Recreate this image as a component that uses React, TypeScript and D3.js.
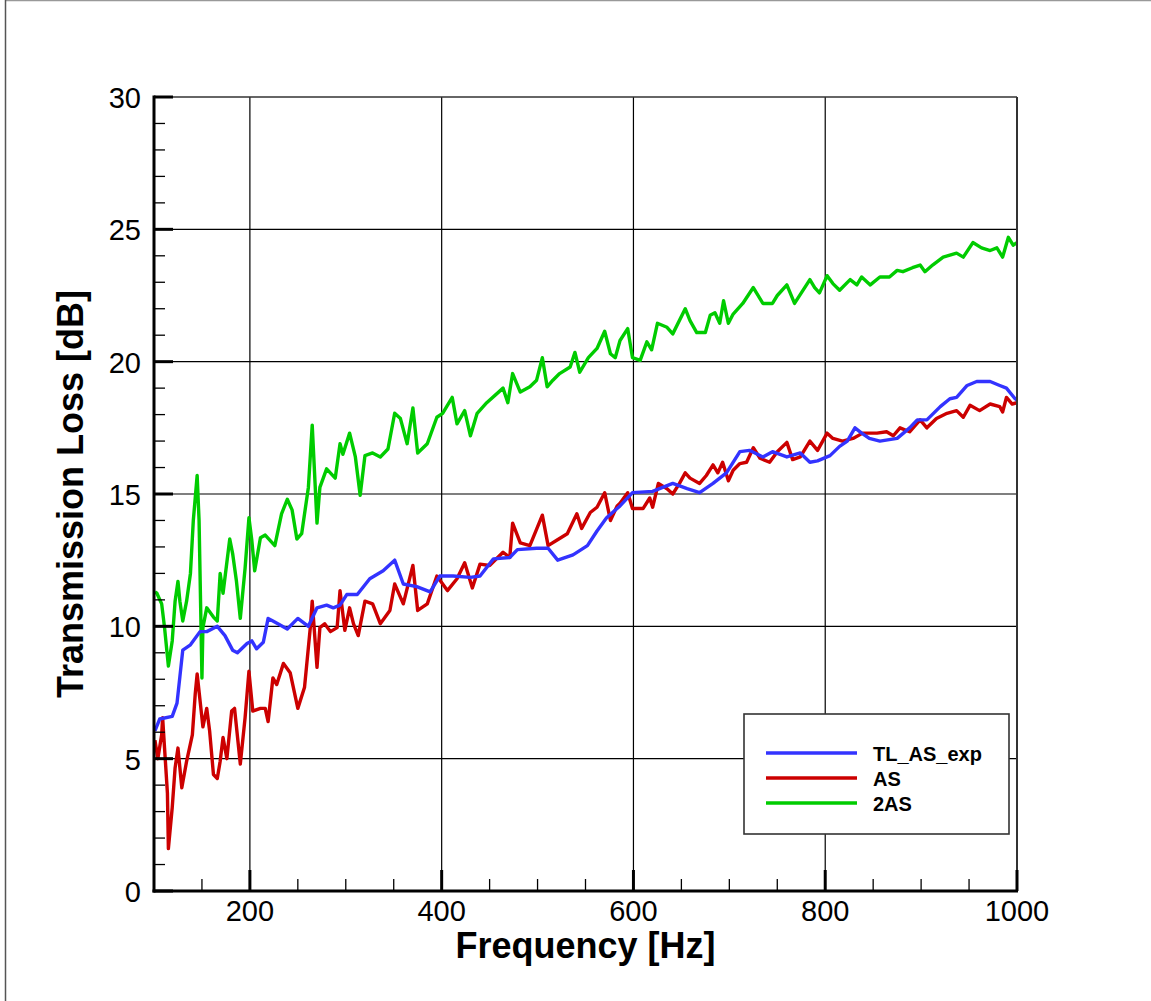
import React from "react";
import * as d3 from "d3";

const blueTL: [number, number][] = [[101,6.05],[106,6.5],[119,6.6],[124,7.1],[127,8.1],[130,9.1],[138,9.3],[148,9.8],[155,9.8],[166,10.0],[174,9.65],[182,9.1],[187,9.0],[197,9.35],[202,9.45],[207,9.15],[214,9.4],[219,10.3],[224,10.2],[239,9.9],[250,10.3],[261,10.0],[270,10.7],[280,10.8],[287,10.7],[294,10.8],[301,11.2],[312,11.2],[325,11.8],[339,12.1],[351,12.5],[360,11.6],[374,11.5],[388,11.3],[398,11.9],[412,11.9],[430,11.85],[440,11.9],[454,12.55],[471,12.6],[479,12.9],[499,12.95],[511,12.95],[521,12.5],[537,12.7],[552,13.05],[562,13.6],[572,14.1],[586,14.55],[599,15.05],[620,15.1],[641,15.4],[656,15.2],[669,15.05],[683,15.4],[697,15.8],[711,16.6],[721,16.65],[735,16.4],[745,16.6],[760,16.4],[774,16.55],[784,16.2],[792,16.25],[805,16.45],[815,16.8],[823,17.0],[831,17.5],[838,17.3],[846,17.1],[857,17.0],[875,17.1],[888,17.5],[896,17.8],[906,17.8],[920,18.3],[930,18.6],[937,18.65],[948,19.1],[958,19.25],[972,19.25],[982,19.1],[989,19.0],[998,18.6],[1000,18.55]];

const redAS: [number, number][] = [[101,5.7],[104,5.0],[108,5.9],[109,6.55],[111,5.4],[114,3.7],[115,1.6],[119,3.15],[122,4.65],[125,5.4],[129,3.9],[134,4.9],[140,5.9],[143,7.45],[145,8.2],[148,7.2],[151,6.2],[155,6.9],[158,6.05],[162,4.4],[166,4.25],[169,4.9],[172,5.8],[176,5.0],[181,6.8],[184,6.9],[190,4.8],[195,6.55],[199,8.3],[203,6.8],[211,6.9],[216,6.9],[219,6.4],[224,8.05],[228,7.8],[235,8.6],[242,8.25],[250,6.9],[257,7.7],[263,9.95],[265,10.95],[270,8.45],[273,9.95],[278,10.1],[284,9.8],[291,9.95],[294,11.35],[299,9.85],[304,10.7],[308,10.1],[313,9.65],[320,10.95],[328,10.85],[336,10.1],[346,10.6],[351,11.6],[360,10.85],[370,12.3],[375,10.6],[385,10.85],[395,11.9],[406,11.35],[416,11.8],[424,12.4],[432,11.45],[440,12.35],[450,12.3],[464,12.8],[471,12.6],[474,13.9],[482,13.15],[492,13.05],[505,14.2],[511,13.05],[520,13.25],[531,13.5],[541,14.25],[546,13.7],[555,14.3],[562,14.5],[570,15.05],[576,14.0],[583,14.55],[586,14.65],[594,15.05],[599,14.45],[610,14.45],[617,14.85],[620,14.5],[626,15.4],[635,15.2],[641,15.0],[648,15.4],[654,15.8],[659,15.6],[669,15.4],[676,15.7],[683,16.1],[688,15.8],[693,16.2],[699,15.5],[704,15.9],[711,16.15],[718,16.2],[725,16.75],[732,16.35],[742,16.2],[750,16.6],[760,16.95],[766,16.3],[774,16.4],[784,17.0],[792,16.65],[802,17.3],[808,17.1],[818,17.0],[829,17.1],[839,17.3],[854,17.3],[864,17.35],[871,17.2],[878,17.5],[888,17.35],[899,17.8],[906,17.5],[916,17.85],[927,18.05],[937,18.15],[944,17.9],[951,18.35],[961,18.15],[972,18.4],[982,18.3],[985,18.1],[989,18.65],[995,18.4],[1000,18.45]];

const green2AS: [number, number][] = [[101,11.3],[103,11.25],[108,10.85],[111,9.95],[115,8.5],[119,9.45],[122,10.95],[125,11.7],[127,10.95],[130,10.2],[134,10.95],[138,12.0],[141,14.0],[145,15.7],[147,14.0],[150,8.05],[151,9.95],[155,10.7],[162,10.35],[166,10.2],[169,12.0],[172,11.25],[179,13.3],[182,12.75],[186,11.7],[190,10.3],[195,12.2],[199,14.1],[202,13.25],[205,12.1],[211,13.35],[216,13.45],[226,13.05],[233,14.25],[239,14.8],[244,14.4],[249,13.3],[254,13.5],[261,15.25],[265,17.6],[270,13.9],[273,15.25],[280,15.95],[289,15.6],[294,16.9],[297,16.5],[304,17.3],[310,16.4],[315,14.95],[320,16.45],[328,16.55],[336,16.4],[344,16.7],[351,18.05],[357,17.85],[364,16.9],[370,18.25],[375,16.55],[385,16.9],[395,17.9],[401,18.05],[411,18.65],[416,17.65],[424,18.15],[430,17.2],[437,18.05],[447,18.45],[464,19.0],[469,18.45],[474,19.55],[482,18.85],[492,19.05],[499,19.3],[505,20.15],[510,19.05],[516,19.3],[523,19.55],[534,19.8],[539,20.35],[544,19.6],[553,20.15],[562,20.5],[570,21.15],[576,20.3],[581,20.15],[586,20.8],[594,21.25],[599,20.15],[607,20.05],[614,20.75],[619,20.45],[625,21.45],[635,21.3],[641,21.05],[654,22.0],[659,21.55],[666,21.1],[675,21.1],[680,21.75],[685,21.85],[690,21.45],[694,22.3],[699,21.45],[704,21.8],[714,22.2],[725,22.8],[735,22.2],[745,22.2],[750,22.5],[760,22.9],[768,22.2],[784,23.1],[789,22.8],[794,22.6],[802,23.25],[808,22.95],[815,22.7],[826,23.1],[833,22.9],[838,23.2],[847,22.9],[857,23.2],[867,23.2],[875,23.45],[881,23.4],[891,23.55],[899,23.65],[904,23.4],[912,23.65],[923,23.95],[937,24.1],[944,23.95],[954,24.5],[963,24.3],[972,24.2],[979,24.3],[985,23.95],[991,24.7],[996,24.4],[1000,24.5]];

const xMajorTicks = [200, 400, 600, 800, 1000];
const xMinorTicks = [150, 250, 300, 350, 450, 500, 550, 650, 700, 750, 850, 900, 950];
const yMajorTicks = [0, 5, 10, 15, 20, 25, 30];
const yMinorTicks = [1,2,3,4,6,7,8,9,11,12,13,14,16,17,18,19,21,22,23,24,26,27,28,29];

const seriesNames = ["TL_AS_exp", "AS", "2AS"];
const seriesColors = ["#3333ff", "#cc0000", "#00cc00"];
const seriesData = [blueTL, redAS, green2AS];

const xTitle = "Frequency [Hz]";
const yTitle = "Transmission Loss [dB]";

export default function App() {
  const W = 1151, H = 1001;
  const x = d3.scaleLinear().domain([100, 1000]).range([154, 1017]);
  const y = d3.scaleLinear().domain([0, 30]).range([891, 97]);
  const line = d3.line<[number, number]>().x(d => x(d[0])).y(d => y(d[1]));
  const font = "Arial, 'Liberation Sans', sans-serif";
  const [x0, x1] = x.range();
  const [y0, y1] = y.range();
  const drawOrder = [2, 1, 0];

  return (
    <svg width={W} height={H} style={{ position: "absolute", left: 0, top: 0, background: "#fff" }}>
      <rect x={0} y={0} width={W} height={H} fill="#fff" />
      <line x1={5} y1={0.5} x2={W} y2={0.5} stroke="#999" strokeWidth={1.5} />
      <line x1={5.5} y1={0} x2={5.5} y2={H} stroke="#555" strokeWidth={1.5} />
      <defs>
        <clipPath id="plotClip">
          <rect x={x0} y={y1} width={x1 - x0} height={y0 - y1} />
        </clipPath>
      </defs>
      {xMajorTicks.filter(t => t < 1000).map(t => (
        <line key={"gx" + t} x1={x(t)} x2={x(t)} y1={y1} y2={y0} stroke="#000" strokeWidth={1.2} />
      ))}
      {yMajorTicks.filter(t => t > 0 && t < 30).map(t => (
        <line key={"gy" + t} x1={x0} x2={x1} y1={y(t)} y2={y(t)} stroke="#000" strokeWidth={1.2} />
      ))}
      <g clipPath="url(#plotClip)">
        {drawOrder.map(i => (
          <path key={i} d={line(seriesData[i]) || ""} fill="none" stroke={seriesColors[i]} strokeWidth={3.4} strokeLinejoin="round" />
        ))}
      </g>
      <line x1={x0} x2={x1} y1={y1} y2={y1} stroke="#333" strokeWidth={1.6} />
      <line x1={x1} x2={x1} y1={y1} y2={y0} stroke="#333" strokeWidth={2} />
      {xMinorTicks.map(t => (
        <line key={"mx" + t} x1={x(t)} x2={x(t)} y1={y0} y2={y0 - 12} stroke="#000" strokeWidth={1.3} />
      ))}
      {yMinorTicks.map(t => (
        <line key={"my" + t} x1={x0} x2={x0 + 11} y1={y(t)} y2={y(t)} stroke="#000" strokeWidth={1.3} />
      ))}
      {xMajorTicks.map(t => (
        <line key={"Mx" + t} x1={x(t)} x2={x(t)} y1={y0} y2={y0 - 21} stroke="#000" strokeWidth={3} />
      ))}
      {yMajorTicks.map(t => (
        <line key={"My" + t} x1={x0} x2={x0 + 19} y1={y(t)} y2={y(t)} stroke="#000" strokeWidth={3} />
      ))}
      <line x1={x0} x2={x0} y1={y1 - 1.5} y2={y0 + 1.5} stroke="#000" strokeWidth={3} />
      <line x1={x0 - 1.5} x2={x1 + 1} y1={y0} y2={y0} stroke="#000" strokeWidth={3} />
      {yMajorTicks.map(t => (
        <text key={"ly" + t} x={141} y={y(t) + 11} textAnchor="end" fontFamily={font} fontSize={29} fill="#000">{t}</text>
      ))}
      {xMajorTicks.map(t => (
        <text key={"lx" + t} x={x(t)} y={921} textAnchor="middle" fontFamily={font} fontSize={29} fill="#000">{t}</text>
      ))}
      <text x={(x0 + x1) / 2} y={958} textAnchor="middle" fontFamily={font} fontSize={36} fontWeight="bold" fill="#000">{xTitle}</text>
      <text transform={`translate(83,${(y0 + y1) / 2}) rotate(-90)`} textAnchor="middle" fontFamily={font} fontSize={36} fontWeight="bold" fill="#000">{yTitle}</text>
      <rect x={744} y={714} width={265} height={120} fill="#fff" stroke="#333" strokeWidth={1.6} />
      {seriesNames.map((n, i) => (
        <g key={n}>
          <line x1={766} x2={857} y1={753 + i * 25} y2={753 + i * 25} stroke={seriesColors[i]} strokeWidth={3.4} />
          <text x={873} y={760.5 + i * 25} fontFamily={font} fontSize={20} fontWeight="bold" fill="#000">{n}</text>
        </g>
      ))}
    </svg>
  );
}
